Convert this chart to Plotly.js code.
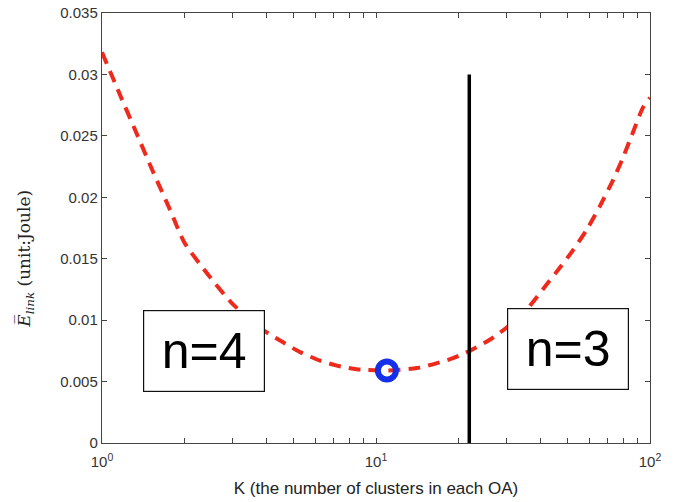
<!DOCTYPE html>
<html>
<head>
<meta charset="utf-8">
<script src="https://cdn.plot.ly/plotly-3.0.1.min.js"></script>
<style>html,body{margin:0;padding:0;background:#fff;}#chart{width:678px;height:502px;}</style>
</head>
<body>
<div id="chart"></div>
<script>
// Curve: average link energy vs K (clusters per OA)
const kValues = [1, 1.16, 1.32, 1.52, 1.77, 2.0, 2.44, 3.0, 3.87, 4.58, 5.28, 6.25, 7.2, 8.5, 11, 14.1, 16.7, 19.1, 22, 26, 30.8, 35.6, 40.6, 47, 52.4, 58.9, 65.7, 73.3, 79.6, 86.7, 94.2, 100];
const energy  = [0.0318, 0.0284, 0.0255, 0.0223, 0.0190, 0.0163, 0.0137, 0.0113, 0.0092, 0.0082, 0.0074, 0.0067, 0.0063, 0.0060, 0.0059, 0.0061, 0.0065, 0.0069, 0.0075, 0.0084, 0.0096, 0.0109, 0.0125, 0.0143, 0.0157, 0.0174, 0.0193, 0.0214, 0.0232, 0.0253, 0.0273, 0.0281];
// Optimum marker
const optK = [10.96];
const optE = [0.0059];
// Boundary between n=4 and n=3
const boundaryK = [21.9, 21.9];
const boundaryE = [0, 0.030];
// Region labels
const regionLabels = ['n=4', 'n=3'];
const regionK = [2.355, 50.4];
const regionE = [0.0075, 0.00763];
// Ticks
const xTickVals = [1,2,3,4,5,6,7,8,9,10,20,30,40,50,60,70,80,90,100];
const xTickText = ['10<sup>0</sup>','','','','','','','','','10<sup>1</sup>','','','','','','','','','10<sup>2</sup>'];
const yTickVals = [0, 0.005, 0.01, 0.015, 0.02, 0.025, 0.03, 0.035];
const yTickText = ['0', '0.005', '0.01', '0.015', '0.02', '0.025', '0.03', '0.035'];
const yTitle = '<i>E\u0305</i><sub><i>link</i></sub> (unit:Joule)';

const traces = [
  {x: kValues, y: energy, type: 'scatter', mode: 'lines',
   line: {color: '#ee2a1c', width: 4, dash: '12px,8px', shape: 'spline', smoothing: 0.6}, hoverinfo: 'skip'},
  {x: boundaryK, y: boundaryE, type: 'scatter', mode: 'lines',
   line: {color: '#000000', width: 3.5}, hoverinfo: 'skip'},
  {x: optK, y: optE, type: 'scatter', mode: 'markers',
   marker: {symbol: 'circle-open', size: 18, color: '#1530e8', line: {color: '#1530e8', width: 6}}, hoverinfo: 'skip'}
];

const annotations = regionLabels.map((t, i) => ({
  x: Math.log10(regionK[i]), y: regionE[i], xref: 'x', yref: 'y',
  text: t, showarrow: false,
  font: {family: 'Liberation Sans, Arial, sans-serif', size: 50, color: '#000'},
  bgcolor: '#ffffff', bordercolor: '#111', borderwidth: 1.2, borderpad: 0,
  width: 120, height: 80, xanchor: 'center', yanchor: 'middle'
}));
annotations.push({
  x: -0.139, y: 0.428, xref: 'paper', yref: 'paper', textangle: -90,
  text: yTitle, showarrow: false, xanchor: 'center', yanchor: 'middle',
  font: {family: 'DejaVu Serif, Liberation Serif, serif', size: 17, color: '#222'}
});

const layout = {
  width: 678, height: 502,
  margin: {l: 102, r: 28, t: 13, b: 59},
  paper_bgcolor: '#ffffff', plot_bgcolor: '#ffffff',
  showlegend: false,
  font: {family: 'Liberation Sans, Arial, sans-serif', color: '#333'},
  xaxis: {
    type: 'log', range: [0, 2],
    tickvals: xTickVals, ticktext: xTickText,
    ticks: 'inside', ticklen: 5, tickcolor: '#444', tickwidth: 1,
    showline: true, linecolor: '#444', linewidth: 1.2, mirror: 'ticks',
    showgrid: false, zeroline: false, ticklabelstandoff: 5,
    tickfont: {size: 15, color: '#333'},
    title: {text: 'K (the number of clusters in each OA)', font: {size: 17, color: '#222'}, standoff: 12}
  },
  yaxis: {
    range: [0, 0.035],
    tickvals: yTickVals, ticktext: yTickText,
    ticks: 'inside', ticklen: 5, tickcolor: '#444', tickwidth: 1,
    showline: true, linecolor: '#444', linewidth: 1.2, mirror: 'ticks',
    showgrid: false, zeroline: false,
    tickfont: {size: 15, color: '#333'}
  },
  annotations: annotations
};

Plotly.newPlot('chart', traces, layout, {displayModeBar: false, staticPlot: true});
</script>
</body>
</html>
